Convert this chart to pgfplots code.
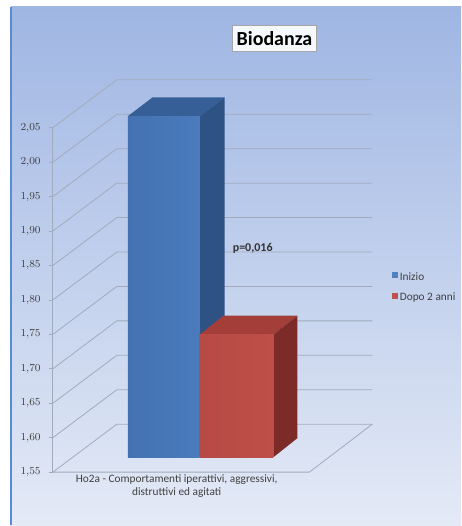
\documentclass[border=0pt]{standalone}
\usepackage{fontspec}
\setmainfont{Carlito}
\usepackage{pgfplots}
\pgfplotsset{compat=1.18}
\definecolor{bgtop}{HTML}{9FB6E3}
\definecolor{bgmid}{HTML}{C6D3EE}
\definecolor{bgbot}{HTML}{E4EAF6}
\definecolor{frameblue}{HTML}{5A8AD2}
\definecolor{gridc}{HTML}{A2ABBD}
\definecolor{labc}{HTML}{404040}
\definecolor{blueL}{HTML}{4472B2}
\definecolor{blueM}{HTML}{5B8CCD}
\definecolor{blueR}{HTML}{4A7BBC}
\definecolor{bluetop}{HTML}{365F98}
\definecolor{blueside}{HTML}{2E5283}
\definecolor{redL}{HTML}{B84A45}
\definecolor{redM}{HTML}{C9584F}
\definecolor{redR}{HTML}{BD4E48}
\definecolor{redtop}{HTML}{A33E39}
\definecolor{redside}{HTML}{7C2B29}
\definecolor{blueF}{HTML}{4F81BD}
\definecolor{redF}{HTML}{C0504D}
\begin{document}
\begin{tikzpicture}
\begin{axis}[
  scale only axis, width=346.5pt, height=394.5pt,
  xmin=0, xmax=462, ymin=1.47319, ymax=2.23551,
  hide axis, clip=false,
  legend style={at={(axis cs:391,1.846)}, anchor=north west, draw=none, fill=none,
    font=\fontsize{8.5}{10}\selectfont, text=labc, row sep=4pt, inner sep=1pt},
  legend cell align=left,
]
% background
\path[fill=white] (axis cs:0,1.47319) rectangle (axis cs:462,2.23551);
\shade[top color=bgtop, middle color=bgmid, bottom color=bgbot]
  (axis cs:11,1.47319) rectangle (axis cs:462,2.22536);
\draw[frameblue, line width=1.5pt] (axis cs:11,1.47319) -- (axis cs:11,2.22536);
% walls and gridlines
\pgfplotsinvokeforeach{1.55,1.60,1.65,1.70,1.75,1.80,1.85,1.90,1.95,2.00,2.05}{
  \draw[gridc, line width=0.6pt] (axis cs:53,#1) -- ++(axis direction cs:64,0.06957) -- ++(axis direction cs:256,0);
  \draw[gridc, line width=0.6pt] (axis cs:49,#1) -- (axis cs:53,#1);
  \node[anchor=east, font=\fontsize{8.5}{10}\selectfont, text=labc, inner sep=0pt]
    at (axis cs:41,#1) {\pgfmathprintnumber[fixed,fixed zerofill,precision=2,use comma]{#1}};
}
\draw[gridc, line width=0.6pt] (axis cs:53,1.55) -- (axis cs:53,2.05);
\draw[gridc, line width=0.6pt] (axis cs:53,1.55) -- (axis cs:310,1.55) -- ++(axis direction cs:63,0.06957);
% Inizio: 2.045 ; Dopo 2 anni: 1.728 (front face raised by the bar depth offset 0.02174)
\addplot[draw=none, fill=bluetop, forget plot] coordinates {(128,2.06674) (200,2.06674) (225,2.09428) (153,2.09428)};
\addplot[draw=none, fill=blueside, forget plot] coordinates {(200,1.57174) (225,1.59928) (225,2.09428) (200,2.06674)};
\addplot[draw=none, left color=blueL, middle color=blueM, right color=blueR, forget plot,
  y filter/.expression={y+0.02174}] coordinates {(128,1.55) (200,1.55) (200,2.045) (128,2.045)};
\addplot[draw=none, fill=redtop, forget plot] coordinates {(200,1.74974) (274,1.74974) (298,1.77728) (224,1.77728)};
\addplot[draw=none, fill=redside, forget plot] coordinates {(274,1.57174) (298,1.59928) (298,1.77728) (274,1.74974)};
\addplot[draw=none, left color=redL, middle color=redM, right color=redR, forget plot,
  y filter/.expression={y+0.02174}] coordinates {(200,1.55) (274,1.55) (274,1.728) (200,1.728)};
% legend
\addlegendimage{legend image code/.code={\fill[blueF] (0pt,0pt) rectangle (3.6pt,3.6pt);}}
\addlegendentry{Inizio}
\addlegendimage{legend image code/.code={\fill[redF] (0pt,0pt) rectangle (3.6pt,3.6pt);}}
\addlegendentry{Dopo 2 anni}
% texts
\node[font=\bfseries\fontsize{9}{11}\selectfont, text=labc!80!black, anchor=west, inner sep=0pt]
  at (axis cs:233,1.8746) {p=0,016};
\node[font=\fontsize{8.5}{9.75}\selectfont, text=labc, align=center]
  at (axis cs:177,1.5304) {Ho2a - Comportamenti iperattivi, aggressivi,\\distruttivi ed agitati};
\node[font=\bfseries\fontsize{15}{18}\selectfont, draw=gray!70, fill=white!90!bgtop,
  minimum width=63pt, minimum height=20pt, inner sep=1pt]
  at (axis cs:275,2.1797) {Biodanza};
\end{axis}
\end{tikzpicture}
\end{document}
